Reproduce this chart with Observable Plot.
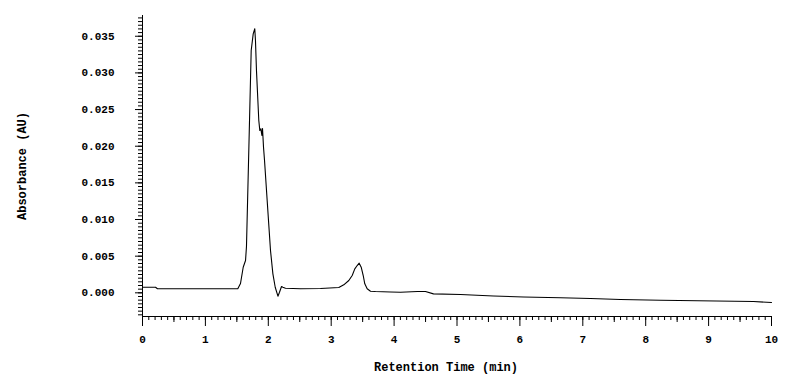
<!DOCTYPE html>
<html>
<head>
<meta charset="utf-8">
<script src="https://cdn.jsdelivr.net/npm/d3@7"></script>
<script src="https://cdn.jsdelivr.net/npm/@observablehq/plot@0.6"></script>
<style>
  html, body { margin: 0; padding: 0; background: #fff; }
  svg { display: block; }
</style>
</head>
<body>
<div id="chart"></div>
<script>
// Retention time (min)
const times = [0, 0.207, 0.238, 0.922, 1.515, 1.558, 1.601, 1.638, 1.653, 1.690, 1.728, 1.760, 1.785, 1.796, 1.812, 1.849, 1.865, 1.882, 1.898, 1.908, 1.924, 1.940, 1.982, 2.035, 2.073, 2.110, 2.153, 2.178, 2.210, 2.232, 2.273, 2.512, 2.830, 3.121, 3.200, 3.280, 3.334, 3.375, 3.413, 3.445, 3.477, 3.509, 3.534, 3.572, 3.625, 3.704, 3.943, 4.102, 4.372, 4.499, 4.626, 5.056, 5.580, 6.057, 6.645, 7.122, 7.599, 8.235, 8.824, 9.714, 10.0];
// Absorbance (AU)
const absorbance = [0.00076, 0.00076, 0.00055, 0.00055, 0.00055, 0.00127, 0.00349, 0.00441, 0.00632, 0.01941, 0.03305, 0.03533, 0.03602, 0.03442, 0.03033, 0.02351, 0.02214, 0.02237, 0.02146, 0.02241, 0.01986, 0.01805, 0.01259, 0.00577, 0.00259, 0.00076, -0.00046, 0.00008, 0.00086, 0.00076, 0.00063, 0.00055, 0.00059, 0.00072, 0.00109, 0.00168, 0.00236, 0.00327, 0.00372, 0.00404, 0.00349, 0.00236, 0.00123, 0.00055, 0.00022, 0.00018, 0.00011, 0.00008, 0.00018, 0.00018, -0.00014, -0.00023, -0.00044, -0.00057, -0.00068, -0.00078, -0.00091, -0.00101, -0.00109, -0.00119, -0.00132];

const xDomain = [0, 10];
const yDomain = [-0.00323, 0.03783];
const xMajorTicks = [0, 1, 2, 3, 4, 5, 6, 7, 8, 9, 10];
const xMidTicks = [0.5, 1.5, 2.5, 3.5, 4.5, 5.5, 6.5, 7.5, 8.5, 9.5];
const xMinorTicks = d3.range(0, 101).map(i => i / 10);
const yMajorTicks = [0, 0.005, 0.010, 0.015, 0.020, 0.025, 0.030, 0.035];
const yMinorTicks = d3.range(-6, 76).map(i => i * 0.0005);
const xLabel = "Retention Time (min)";
const yLabel = "Absorbance (AU)";

const data = times.map((t, i) => ({t, v: absorbance[i]}));

const font = "'Liberation Mono', 'DejaVu Sans Mono', monospace";

const chart = Plot.plot({
  width: 791,
  height: 382,
  marginTop: 15,
  marginBottom: 66,
  marginLeft: 142,
  marginRight: 20,
  style: {fontFamily: font, fontSize: "11px", fontWeight: "bold", color: "#000", background: "#fff"},
  x: {domain: xDomain},
  y: {domain: yDomain},
  marks: [
    Plot.axisX(xMinorTicks, {tickSize: 4, fill: "none", label: null, stroke: "#000"}),
    Plot.axisX(xMidTicks, {tickSize: 6, fill: "none", label: null, stroke: "#000"}),
    Plot.axisX(xMajorTicks, {tickSize: 10, tickPadding: 9, tickFormat: d => String(d), label: null, stroke: "#000", fill: "#000"}),
    Plot.axisY(yMinorTicks, {tickSize: 4, fill: "none", label: null, stroke: "#000"}),
    Plot.axisY(yMajorTicks, {tickSize: 7, tickPadding: 21, tickFormat: d3.format(".3f"), label: null, stroke: "#000", fill: "#000"}),
    Plot.ruleY([yDomain[0]], {stroke: "#000"}),
    Plot.ruleX([0], {stroke: "#000"}),
    Plot.line(data, {x: "t", y: "v", stroke: "#000", strokeWidth: 1.1}),
    Plot.text([yLabel], {frameAnchor: "left", textAnchor: "middle", lineAnchor: "middle", dx: -120, rotate: -90, fontSize: 12, fontWeight: "bold", fill: "#000", fontFamily: font}),
    Plot.text([xLabel], {frameAnchor: "bottom", textAnchor: "middle", lineAnchor: "middle", dy: 51, dx: -11, fontSize: 12, fontWeight: "bold", fill: "#000", fontFamily: font})
  ]
});
document.getElementById("chart").appendChild(chart);
</script>
</body>
</html>
